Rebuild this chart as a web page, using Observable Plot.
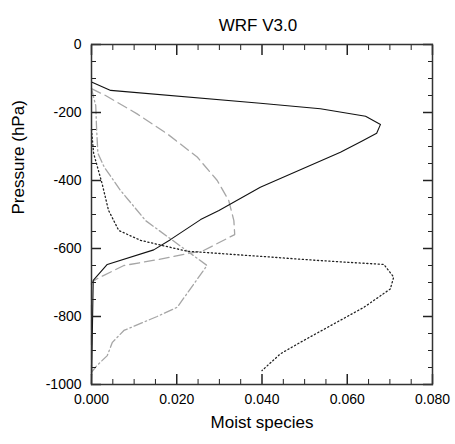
<!DOCTYPE html>
<html>
<head>
<meta charset="utf-8">
<script src="https://cdn.jsdelivr.net/npm/d3@7"></script>
<script src="https://cdn.jsdelivr.net/npm/@observablehq/plot@0.6"></script>
<style>
  html, body { margin: 0; padding: 0; background: #fff; }
  #chart svg { display: block; }
</style>
</head>
<body>
<div id="chart"></div>
<script>
// Series values (x = mixing ratio, p = pressure as -hPa)
const solidX  = [0, 0.0045, 0.0396, 0.0537, 0.0643, 0.0678, 0.0669, 0.0635, 0.0584, 0.0396, 0.0299, 0.0256, 0.0185, 0.0146, 0.0037, 0.0004, 0];
const solidP  = [-110, -135, -173, -189, -211, -235, -261, -284, -317, -420, -488, -515, -574, -604, -647, -694, -1000];

const dashX   = [0, 0.0033, 0.0107, 0.0178, 0.0248, 0.0295, 0.0322, 0.0334, 0.0336, 0.0263, 0.0154, 0.0076, 0.0013, 0, 0];
const dashP   = [-130, -150, -204, -263, -331, -400, -459, -518, -559, -606, -633, -650, -689, -700, -1000];

const dashDotX = [0, 0.001, 0.0012, 0.0015, 0.003, 0.0068, 0.0127, 0.0271, 0.0201, 0.0154, 0.0076, 0.0049, 0.0037, 0.0013, 0];
const dashDotP = [-130, -180, -250, -320, -361, -429, -518, -650, -773, -800, -841, -876, -915, -944, -964];

const dotX    = [0, 0.0005, 0.0015, 0.0025, 0.004, 0.0064, 0.0115, 0.0224, 0.0396, 0.0529, 0.0686, 0.0709, 0.0701, 0.0639, 0.0568, 0.049, 0.0443, 0.04];
const dotP    = [-250, -320, -365, -410, -488, -547, -576, -608, -623, -635, -647, -684, -719, -773, -822, -876, -910, -959];

// Tick values
const xMajor = [0, 0.02, 0.04, 0.06, 0.08];
const xMinor = [0.005, 0.01, 0.015, 0.025, 0.03, 0.035, 0.045, 0.05, 0.055, 0.065, 0.07, 0.075];
const yMajor = [0, -200, -400, -600, -800, -1000];
const yMinor = [-50, -100, -150, -250, -300, -350, -450, -500, -550, -650, -700, -750, -850, -900, -950];

const titleText = "WRF V3.0";
const xLabel = "Moist species";
const yLabel = "Pressure (hPa)";

const toRows = (xs, ps) => xs.map((x, i) => ({x, p: ps[i]}));
const font = "'Liberation Sans', Arial, Helvetica, sans-serif";
const noText = () => "";

// inward ticks on all four sides, built from axis tick marks shifted into the frame
function ticksX(values, len, sw) {
  return [
    Plot.axisX(values, {anchor: "bottom", tickSize: len, dy: -len, tickFormat: noText, label: null, stroke: "#222", strokeWidth: sw}),
    Plot.axisX(values, {anchor: "top", tickSize: len, dy: len, tickFormat: noText, label: null, stroke: "#222", strokeWidth: sw})
  ];
}
function ticksY(values, len, sw) {
  return [
    Plot.axisY(values, {anchor: "left", tickSize: len, dx: len, tickFormat: noText, label: null, stroke: "#222", strokeWidth: sw}),
    Plot.axisY(values, {anchor: "right", tickSize: len, dx: -len, tickFormat: noText, label: null, stroke: "#222", strokeWidth: sw})
  ];
}

const chart = Plot.plot({
  width: 455,
  height: 444,
  marginLeft: 91,
  marginRight: 23,
  marginTop: 44,
  marginBottom: 60,
  style: {fontFamily: font, background: "#fff"},
  x: {domain: [0, 0.08]},
  y: {domain: [-1000, 0]},
  marks: [
    Plot.line(toRows(dashX, dashP), {x: "x", y: "p", stroke: "#a6a6a6", strokeWidth: 1.3, strokeDasharray: "10,5"}),
    Plot.line(toRows(dashDotX, dashDotP), {x: "x", y: "p", stroke: "#a6a6a6", strokeWidth: 1.3, strokeDasharray: "9,3,1.5,3"}),
    Plot.line(toRows(dotX, dotP), {x: "x", y: "p", stroke: "#222", strokeWidth: 1.3, strokeDasharray: "1.2,2.6"}),
    Plot.line(toRows(solidX, solidP), {x: "x", y: "p", stroke: "#111", strokeWidth: 1.1}),
    ...ticksX(xMajor, 10, 1.5),
    ...ticksX(xMinor, 5, 1),
    ...ticksY(yMajor, 10, 1.5),
    ...ticksY(yMinor, 5, 1),
    Plot.frame({stroke: "#333", strokeWidth: 1.5}),
    Plot.axisX(xMajor, {anchor: "bottom", tickSize: 0, tickPadding: 10, tickFormat: d3.format(".3f"), fontSize: 14, label: null, fill: "#000"}),
    Plot.axisY(yMajor, {anchor: "left", tickSize: 0, tickPadding: 10, tickFormat: d => String(d), fontSize: 14, label: null, fill: "#000"}),
    Plot.text([titleText], {frameAnchor: "top", dx: -4, dy: -26, fontSize: 17, fill: "#000"}),
    Plot.text([xLabel], {frameAnchor: "bottom", dy: 43, fontSize: 17, fill: "#000"}),
    Plot.text([yLabel], {frameAnchor: "left", dx: -73, rotate: -90, fontSize: 17, fill: "#000"})
  ]
});

document.getElementById("chart").appendChild(chart);
</script>
</body>
</html>
